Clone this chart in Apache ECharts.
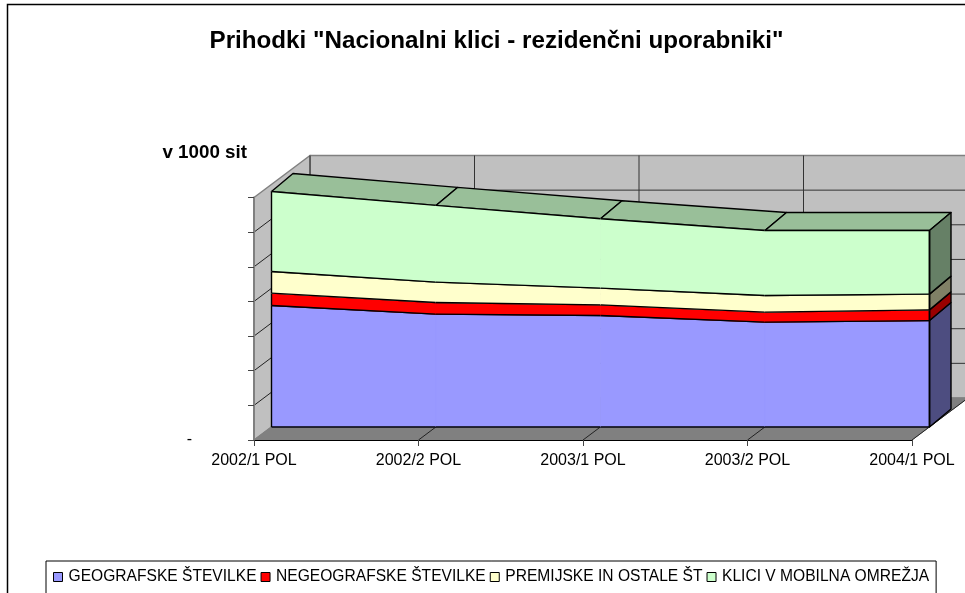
<!DOCTYPE html>
<html>
<head>
<meta charset="utf-8">
<style>
html, body { margin: 0; padding: 0; width: 965px; height: 593px; overflow: hidden; background: #fff; }
#main { width: 1000px; height: 640px; }
</style>
<script src="https://cdn.jsdelivr.net/npm/echarts@6/dist/echarts.min.js"></script>
</head>
<body>
<div id="main"></div>
<script>
var categories = ['2002/1 POL', '2002/2 POL', '2003/1 POL', '2003/2 POL', '2004/1 POL'];
var geografske = [350600, 325700, 321700, 302600, 307200];
var negeografske = [35800, 33500, 30900, 28900, 30900];
var premijske = [62400, 59000, 48300, 48000, 45400];
var mobilna = [231200, 221400, 200300, 187900, 183800];
var axisMax = 700000;
var axisStep = 100000;

// 3d look: pixel offsets from the axis plane
var WALL = [56, -42];
var FRONT = [17.5, -13];
var DEPTH = [21.5, -18];
var FONT = '"Liberation Sans", Arial, sans-serif';

function poly(points, fill, stroke, width) {
    return {
        type: 'polygon',
        shape: {points: points},
        style: {fill: fill, stroke: stroke || null, lineWidth: width || 0, lineJoin: 'round'}
    };
}

function seg(a, b, color, width) {
    return {
        type: 'line',
        shape: {x1: a[0], y1: a[1], x2: b[0], y2: b[1]},
        style: {stroke: color, lineWidth: width, fill: null}
    };
}

function move(p, d) {
    return [p[0] + d[0], p[1] + d[1]];
}

function renderWalls(params, api) {
    var last = categories.length - 1;
    var o = api.coord([0, 0]);
    var r = api.coord([last, 0]);
    var t = api.coord([0, axisMax]);
    var kids = [];
    // back wall
    kids.push(poly([move(o, WALL), move(r, WALL), move([r[0], t[1]], WALL), move(t, WALL)], '#c0c0c0', '#808080', 1.5));
    // side wall
    kids.push(poly([o, move(o, WALL), move(t, WALL), t], '#c0c0c0', '#808080', 1.5));
    // floor
    kids.push(poly([o, r, move(r, WALL), move(o, WALL)], '#808080', '#808080', 1));
    var v, i, p;
    for (v = axisStep; v < axisMax; v += axisStep) {
        p = api.coord([0, v]);
        kids.push(seg(p, move(p, WALL), '#222', 1));
        kids.push(seg(move(p, WALL), move([r[0], p[1]], WALL), '#333', 1));
    }
    for (i = 0; i <= last; i++) {
        p = api.coord([i, 0]);
        if (i > 0) {
            kids.push(seg(p, move(p, WALL), '#222', 1));
        }
        kids.push(seg(move(p, WALL), move([p[0], t[1]], WALL), '#333', 1));
    }
    return {type: 'group', children: kids};
}

function stackedBelow(index, i) {
    var layers = [geografske, negeografske, premijske, mobilna];
    var sum = 0;
    for (var k = 0; k < index; k++) {
        sum += layers[k][i];
    }
    return sum;
}

function layerSeries(name, layer, index, color, top, side) {
    return {
        name: name,
        type: 'custom',
        coordinateSystem: 'cartesian2d',
        itemStyle: {color: color},
        data: layer.map(function (v, i) { return [i, v]; }),
        z: 3 + index,
        renderItem: function (params, api) {
            var i = params.dataIndex;
            var last = categories.length - 1;
            var kids = [];
            var a0 = move(api.coord([i, stackedBelow(index, i)]), FRONT);
            var a1 = move(api.coord([i, stackedBelow(index, i) + layer[i]]), FRONT);
            if (i < last) {
                var b0 = move(api.coord([i + 1, stackedBelow(index, i + 1)]), FRONT);
                var b1 = move(api.coord([i + 1, stackedBelow(index, i + 1) + layer[i + 1]]), FRONT);
                if (top) {
                    kids.push(poly([a1, b1, move(b1, DEPTH), move(a1, DEPTH)], top, '#000', 1.4));
                }
                // own-colour stroke hides the seam between segments
                kids.push(poly([a0, b0, b1, a1], color, color, 0.6));
                kids.push(seg(a1, b1, '#000', 1.4));
                kids.push(seg(a0, b0, '#000', 1.4));
                if (i === 0) {
                    kids.push(seg(a0, a1, '#000', 1.4));
                }
            } else {
                kids.push(poly([a0, a1, move(a1, DEPTH), move(a0, DEPTH)], side, '#000', 1.4));
                kids.push(seg(a0, a1, '#000', 1.6));
            }
            return {type: 'group', children: kids};
        }
    };
}

var myChart = echarts.init(document.getElementById('main'));
var option = {
    animation: false,
    backgroundColor: '#fff',
    textStyle: {fontFamily: FONT},
    title: {
        text: 'Prihodki "Nacionalni klici - rezidenčni uporabniki"',
        left: 491.5,
        top: 24,
        textAlign: 'center',
        textStyle: {fontFamily: FONT, fontSize: 24.2, fontWeight: 'bold', color: '#000'}
    },
    legend: {
        left: 46,
        top: 561,
        padding: [8, 7, 30, 7],
        itemWidth: 9,
        itemHeight: 9,
        itemGap: 4,
        icon: 'rect',
        backgroundColor: '#fff',
        borderColor: '#000',
        borderWidth: 1,
        itemStyle: {borderColor: '#000', borderWidth: 1},
        textStyle: {fontFamily: FONT, fontSize: 15.6, color: '#000', padding: [0, 0, 0, 1]},
        data: ['GEOGRAFSKE ŠTEVILKE', 'NEGEOGRAFSKE ŠTEVILKE', 'PREMIJSKE IN OSTALE ŠT', 'KLICI V MOBILNA OMREŽJA']
    },
    grid: {left: 254, top: 197.5, width: 658, height: 242.5},
    xAxis: {
        type: 'category',
        data: categories,
        boundaryGap: false,
        z: 6,
        axisLine: {lineStyle: {color: '#000', width: 1.2}},
        axisTick: {show: true, alignWithLabel: true, length: 6, lineStyle: {color: '#444'}},
        axisLabel: {interval: 0, margin: 13, fontFamily: FONT, fontSize: 16, color: '#000', hideOverlap: false, showMinLabel: true, showMaxLabel: true},
        splitLine: {show: false}
    },
    yAxis: {
        type: 'value',
        min: 0,
        max: axisMax,
        interval: axisStep,
        name: 'v 1000 sit',
        nameLocation: 'end',
        nameGap: 35,
        nameTextStyle: {fontFamily: FONT, fontSize: 18.8, fontWeight: 'bold', color: '#000', align: 'right', padding: [0, 7, 0, 0]},
        z: 6,
        axisLine: {show: true, lineStyle: {color: '#808080', width: 2}},
        axisTick: {show: true, length: 6, lineStyle: {color: '#444'}},
        axisLabel: {
            margin: 62,
            fontFamily: FONT,
            fontSize: 16,
            color: '#000',
            formatter: function (v) { return v === 0 ? '-' : ''; }
        },
        splitLine: {show: false}
    },
    graphic: [{
        type: 'rect',
        z: -1,
        silent: true,
        shape: {x: 7.5, y: 4.5, width: 1200, height: 900},
        style: {fill: null, stroke: '#000', lineWidth: 1.5}
    }],
    series: [
        {
            name: 'walls',
            type: 'custom',
            coordinateSystem: 'cartesian2d',
            data: [[0, 0]],
            z: 1,
            silent: true,
            renderItem: renderWalls
        },
        layerSeries('GEOGRAFSKE ŠTEVILKE', geografske, 0, '#9999ff', null, '#4d4d80'),
        layerSeries('NEGEOGRAFSKE ŠTEVILKE', negeografske, 1, '#ff0000', null, '#990000'),
        layerSeries('PREMIJSKE IN OSTALE ŠT', premijske, 2, '#ffffcc', null, '#808066'),
        layerSeries('KLICI V MOBILNA OMREŽJA', mobilna, 3, '#ccffcc', '#99bf99', '#668066')
    ]
};
myChart.setOption(option);
</script>
</body>
</html>
